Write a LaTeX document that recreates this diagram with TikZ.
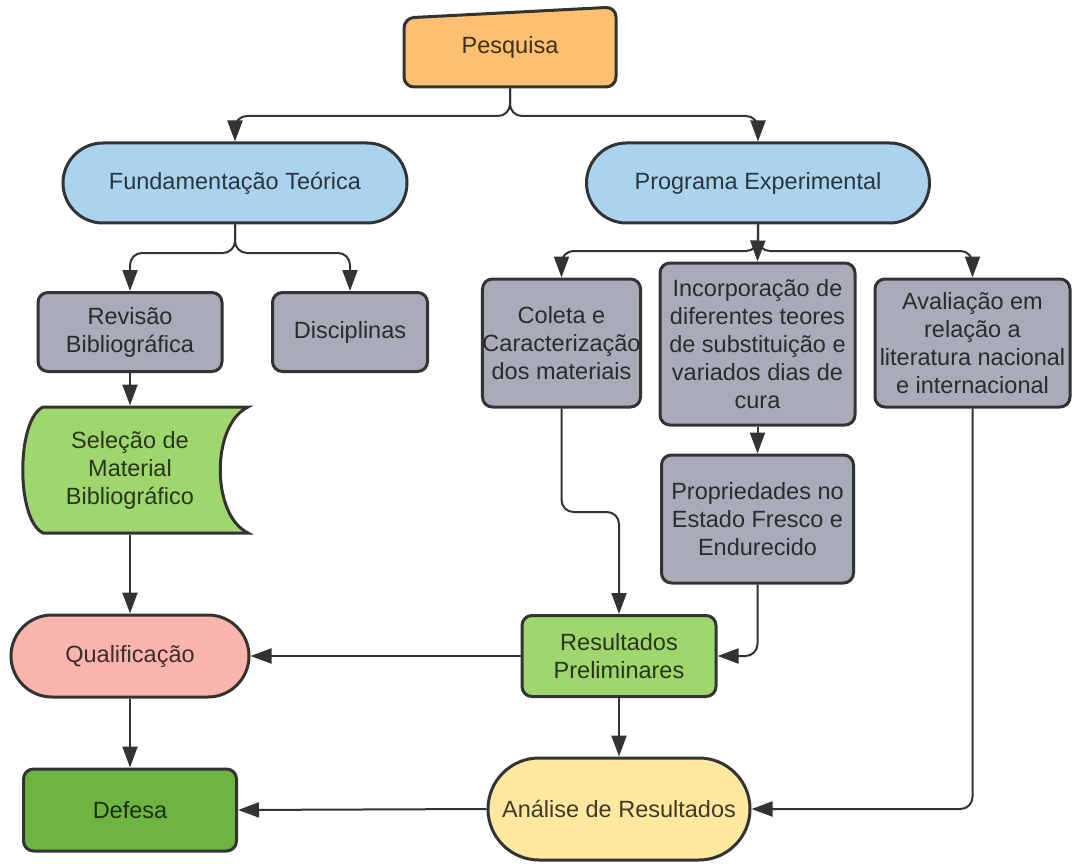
\documentclass[tikz,border=0pt]{standalone}
\usepackage{fontspec}
\setmainfont{Liberation Sans}
\usepackage{tikz}
\usetikzlibrary{arrows.meta}

\definecolor{pesqorange}{RGB}{253,192,112}
\definecolor{teoblue}{RGB}{170,211,240}
\definecolor{boxgrey}{RGB}{168,172,185}
\definecolor{lightgreen}{RGB}{160,214,110}
\definecolor{qualpink}{RGB}{249,180,172}
\definecolor{darkgreen}{RGB}{110,180,64}
\definecolor{analyellow}{RGB}{255,232,160}
\definecolor{linegrey}{RGB}{51,51,51}

\begin{document}
\begin{tikzpicture}[x=1pt,y=-1pt]
		\tikzstyle{NodeStyle}=[draw=linegrey,line width=3pt,align=center,inner sep=0pt,font=\fontsize{23.5}{28}\selectfont]
		\tikzstyle{BoxStyle}=[NodeStyle,rectangle,rounded corners=10pt,fill=boxgrey,text=boxgrey!25!black]
		\tikzstyle{OvalStyle}=[NodeStyle,rectangle,rounded corners=40pt,fill=teoblue,text=teoblue!25!black]
		\tikzstyle{EdgeStyle}=[draw=linegrey,line width=2pt,-{Triangle[length=21pt,width=15pt]},rounded corners=12pt]
		\path[use as bounding box,fill=white] (0,0) rectangle (1072,864);
		% shapes that are not plain boxes
		\draw[draw=linegrey,line width=3pt,fill=pesqorange,rounded corners=10pt]
			(404,18) -- (616,7) -- (616,87) -- (404,87) -- cycle;
		\draw[draw=linegrey,line width=3pt,fill=lightgreen]
			(43,407) -- (248,407) .. controls (211,425) and (211,515) .. (248,533)
			-- (43,533) .. controls (16,520) and (16,420) .. (43,407) -- cycle;
		\node[NodeStyle,draw=none,minimum width=212,minimum height=80,text=pesqorange!25!black] (pesq) at (510,47) {Pesquisa};
		\node[OvalStyle,minimum width=344,minimum height=80] (fund) at (235,183) {Fundamentação Teórica};
		\node[OvalStyle,minimum width=343,minimum height=80] (prog) at (758,183) {Programa Experimental};
		\node[BoxStyle,minimum width=184,minimum height=79] (rev) at (130,332) {Revisão\\Bibliográfica};
		\node[BoxStyle,minimum width=155,minimum height=79] (disc) at (350,332) {Disciplinas};
		\node[NodeStyle,draw=none,minimum width=200,minimum height=126,text=lightgreen!25!black] (sel) at (130,470) {Seleção de\\Material\\Bibliográfico};
		\node[BoxStyle,minimum width=157,minimum height=128] (coleta) at (561.5,343) {Coleta e\\Caracterização\\dos materiais};
		\node[BoxStyle,minimum width=195,minimum height=162] (inc) at (757.5,344) {Incorporação de\\diferentes teores\\de substituição e\\variados dias de\\cura};
		\node[BoxStyle,minimum width=195,minimum height=128] (aval) at (972.5,343) {Avaliação em\\relação a\\literatura nacional\\e internacional};
		\node[BoxStyle,minimum width=192,minimum height=128] (prop) at (757.5,519) {Propriedades no\\Estado Fresco e\\Endurecido};
		\node[BoxStyle,minimum width=194,minimum height=81,fill=lightgreen,text=lightgreen!25!black] (res) at (619,656) {Resultados\\Preliminares};
		\node[OvalStyle,rounded corners=41pt,minimum width=238,minimum height=82,fill=qualpink,text=qualpink!25!black] (qual) at (130,656) {Qualificação};
		\node[BoxStyle,minimum width=213,minimum height=82,fill=darkgreen,text=darkgreen!25!black] (def) at (130,810) {Defesa};
		\node[OvalStyle,rounded corners=51pt,minimum width=262,minimum height=102,fill=analyellow,text=analyellow!25!black] (anal) at (619,809) {Análise de Resultados};
		\coordinate (psplit) at (510,116);
		\coordinate (fsplit) at (235,253);
		\coordinate (gsplit) at (758,251);
		\coordinate (cbend) at (coleta.south |- 0,512);
		\draw[EdgeStyle] (pesq.south) -- (psplit) -| (fund.north);
		\draw[EdgeStyle] (pesq.south) -- (psplit) -| (prog.north);
		\draw[EdgeStyle] (fund.south) -- (fsplit) -| (rev.north);
		\draw[EdgeStyle] (fund.south) -- (fsplit) -| (disc.north);
		\draw[EdgeStyle] (prog.south) -- (gsplit) -| (coleta.north);
		\draw[EdgeStyle] (prog.south) -- (gsplit) -| (aval.north);
		\draw[EdgeStyle] (prog.south) -- (inc.north);
		\draw[EdgeStyle] (rev.south) -- (sel.north);
		\draw[EdgeStyle] (sel.south) -- (qual.north);
		\draw[EdgeStyle] (qual.south) -- (def.north);
		\draw[EdgeStyle] (inc.south) -- (prop.north);
		\draw[EdgeStyle] (coleta.south) -- (cbend) -| (res.north);
		\draw[EdgeStyle] (prop.south) |- (res.east);
		\draw[EdgeStyle] (res.west) -- (qual.east);
		\draw[EdgeStyle] (res.south) -- (anal.north);
		\draw[EdgeStyle] (anal.west) -- (def.east);
		\draw[EdgeStyle] (aval.south) |- (anal.east);
\end{tikzpicture}
\end{document}
